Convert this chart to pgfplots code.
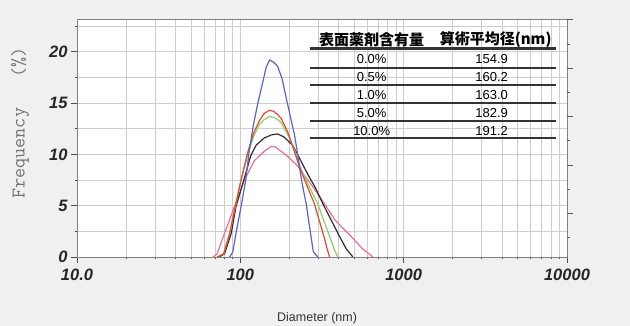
\documentclass[border=0pt]{standalone}
\usepackage{fontspec}
\setmainfont{Liberation Sans}
\newfontfamily\cjk{Noto Sans CJK JP}
\usepackage{pgfplots}
\pgfplotsset{compat=1.18}
\definecolor{cblue}{RGB}{90,100,205}
\definecolor{cred}{RGB}{232,72,50}
\definecolor{cgreen}{RGB}{140,210,100}
\definecolor{cblack}{RGB}{55,45,45}
\definecolor{cpink}{RGB}{236,110,150}
\definecolor{bg}{RGB}{240,240,240}
\definecolor{gridc}{RGB}{205,205,205}
\begin{document}
\begin{tikzpicture}[x=1pt,y=1pt]
\useasboundingbox (-77,-69) rectangle (553,257);
\fill[bg] (-77,-69) rectangle (553,257);
\begin{axis}[
  at={(0,0)}, anchor=south west,
  scale only axis, width=490pt, height=238pt,
  xmode=log, xmin=10, xmax=10000, ymin=0, ymax=23.2,
  axis background/.style={fill=white},
  grid=both,
  major grid style={gridc, line width=0.8pt},
  minor grid style={gridc, line width=0.8pt},
  xtick={10,100,1000,10000}, xticklabels={10.0,100,1000,10000},
  ytick={0,5,10,15,20}, yticklabels={0,5,10,15,20},
  minor ytick={2.5,7.5,12.5,17.5,22.5},
  tick align=outside, tick pos=left,
  major tick length=6pt, minor tick length=2.5pt,
  tick style={black!70, line width=0.8pt},
  axis line style={black!50, line width=0.8pt},
  ticklabel style={font=\fontsize{16.5}{18}\selectfont\bfseries\itshape, text=black!85},
  xticklabel style={yshift=-2pt},
  xlabel={Diameter (nm)},
  xlabel style={at={(axis description cs:0.49,-0.256)}, anchor=center, font=\fontsize{12.5}{14}\selectfont, text=black!80},
  ylabel={Frequency\ \ \ (\%)},
  ylabel style={at={(axis description cs:-0.116,0.563)}, anchor=center, font=\ttfamily\fontsize{19.5}{20}\selectfont, text=black!55},
  every axis plot/.append style={line width=1.2pt},
]
\addplot[cpink] coordinates {(68,0)(72,0.3)(80,2.3)(92,4.9)(106,7.5)(122,9.4)(140,10.3)(155,10.8)(165,10.7)(195,9.8)(224,8.9)(250,7.8)(277,6.9)(327,5.2)(380,3.6)(477,2.0)(560,0.8)(649,0)};
\addplot[cblack] coordinates {(74,0)(80,0.3)(88,2.3)(94,4.9)(105,7.5)(116,9.9)(125,10.9)(140,11.6)(155,11.9)(169,12.0)(185,11.7)(209,10.9)(236,9.3)(260,8.0)(287,6.8)(320,5.2)(360,3.6)(405,2.0)(445,0.8)(489,0)};
\addplot[cgreen] coordinates {(72,0)(79,0.3)(86,2.3)(93,4.9)(101,7.5)(112,10.2)(121,11.8)(131,12.9)(140,13.4)(151,13.7)(160,13.6)(169,13.4)(178,13.1)(200,11.6)(220,10.0)(236,8.5)(265,6.8)(298,5.2)(325,3.5)(352,2.0)(375,0.8)(395,0)};
\addplot[cred] coordinates {(72,0)(79,0.3)(86,2.3)(93,4.9)(101,7.5)(111,10.2)(120,12.0)(131,13.3)(140,14.0)(151,14.3)(160,14.2)(169,13.9)(178,13.5)(195,12.2)(214,10.3)(230,8.8)(255,7.0)(284,5.2)(305,3.5)(325,2.0)(340,0.8)(352,0)};
\addplot[cblue] coordinates {(86,0)(90,0.5)(94,2.3)(101,4.9)(108,7.5)(113,10.2)(120,12.8)(128,15.0)(137,17.0)(144,18.5)(151,19.2)(160,19.0)(169,18.6)(180,17.4)(191,15.5)(203,13.6)(214,12.0)(222,10.5)(230,8.8)(240,7.0)(253,5.2)(264,3.2)(272,1.8)(280,0.5)(298,0)};
\end{axis}
\begin{axis}[
  at={(0,0)}, anchor=south west,
  scale only axis, width=490pt, height=238pt,
  xmin=0, xmax=1, ymin=2.07, ymax=100.4,
  axis x line=none, axis y line*=right,
  y axis line style={draw=none},
  ytick={20,40,60,80,100}, minor ytick={10,30,50,70,90},
  yticklabels={},
  tick align=outside,
  major tick length=6pt, minor tick length=3pt,
  tick style={black!65, line width=1pt},
]
\addplot[draw=none] coordinates {(0.5,50)};
\end{axis}
% summary table
\begin{scope}[line width=2pt, black!80]
\draw[line width=3pt] (233,208.7) -- (479,208.7);
\foreach \yy in {189.3,172,154.3,136.3,118.7} {\draw (233,\yy) -- (479,\yy);}
\end{scope}
\node[font=\cjk\bfseries\fontsize{15}{16}\selectfont] at (294.7,217) {表面薬剤含有量};
\node[font=\cjk\bfseries\fontsize{15}{16}\selectfont] at (418.7,217) {算術平均径(nm)};
\begin{scope}[every node/.style={font=\fontsize{13}{14}\selectfont}]
\node at (294.7,197.7) {0.0\%};  \node at (414.7,197.7) {154.9};
\node at (294.7,179.7) {0.5\%};  \node at (414.7,179.7) {160.2};
\node at (294.7,162) {1.0\%};    \node at (414.7,162) {163.0};
\node at (294.7,143.7) {5.0\%};  \node at (414.7,143.7) {182.9};
\node at (294.7,126) {10.0\%};   \node at (414.7,126) {191.2};
\end{scope}
\end{tikzpicture}
\end{document}
